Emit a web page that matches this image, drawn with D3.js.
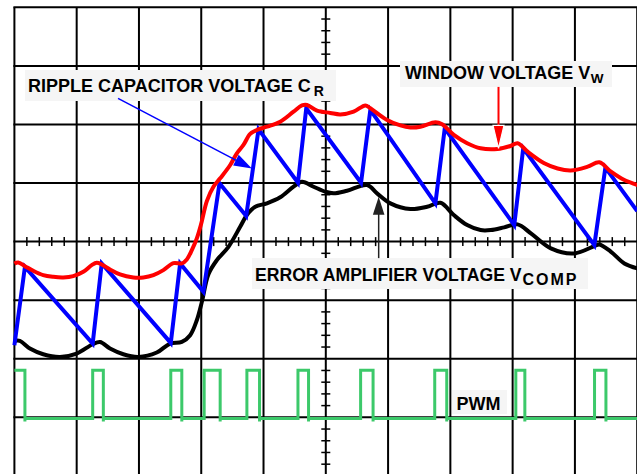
<!DOCTYPE html>
<html><head><meta charset="utf-8">
<script src="https://cdn.jsdelivr.net/npm/d3@7"></script>
<style>html,body{margin:0;padding:0;background:#fff;overflow:hidden}svg{display:block}</style>
</head><body><svg id="c" width="637" height="474"></svg>
<script>
// ---- data (time in divisions, voltage in divisions) ----
const rippleT = [0, 0.169, 1.257, 1.402, 2.511, 2.661, 3.035, 3.293, 3.722, 3.920, 4.553, 4.686, 5.566, 5.715, 6.760, 6.910, 8.026, 8.170, 9.312, 9.489, 10.0];
const rippleV = [-1.769, -0.431, -1.740, -0.373, -1.730, -0.373, -0.858, 0.995, 0.436, 1.918, 1.005, 2.277, 1.005, 2.248, 0.653, 1.935, 0.282, 1.593, -0.060, 1.262, 0.521];

const windowT = [0, 0.061, 0.169, 0.302, 0.463, 0.624, 0.785, 0.945, 1.106, 1.241, 1.322, 1.402, 1.535, 1.696, 1.910, 2.071, 2.232, 2.392, 2.553, 2.688, 2.768, 2.849, 2.929, 2.998, 3.090, 3.196, 3.304, 3.465, 3.572, 3.678, 3.786, 3.894, 4.055, 4.268, 4.482, 4.617, 4.698, 4.859, 5.072, 5.233, 5.447, 5.635, 5.715, 5.984, 6.198, 6.359, 6.519, 6.760, 6.868, 7.055, 7.270, 7.484, 7.757, 7.966, 8.079, 8.240, 8.508, 8.722, 8.931, 9.204, 9.392, 9.579, 9.794, 10.008];
const windowV = [-0.376, -0.356, -0.419, -0.499, -0.573, -0.602, -0.612, -0.590, -0.516, -0.402, -0.362, -0.390, -0.475, -0.561, -0.612, -0.612, -0.573, -0.487, -0.368, -0.373, -0.304, -0.145, 0.055, 0.299, 0.692, 0.937, 1.080, 1.308, 1.508, 1.650, 1.838, 1.906, 1.962, 2.048, 2.219, 2.325, 2.333, 2.236, 2.197, 2.171, 2.219, 2.325, 2.277, 2.077, 1.983, 1.949, 1.962, 2.038, 2.003, 1.821, 1.679, 1.593, 1.581, 1.632, 1.679, 1.535, 1.337, 1.248, 1.214, 1.279, 1.354, 1.193, 1.051, 0.966];

const compT = [0, 0.088, 0.249, 0.463, 0.732, 1.000, 1.257, 1.375, 1.535, 1.749, 1.990, 2.286, 2.500, 2.688, 2.822, 2.929, 3.010, 3.116, 3.251, 3.437, 3.625, 3.733, 3.867, 4.055, 4.268, 4.482, 4.617, 4.804, 4.992, 5.125, 5.341, 5.662, 5.823, 6.037, 6.359, 6.627, 6.841, 7.055, 7.270, 7.484, 7.650, 7.865, 8.079, 8.293, 8.614, 8.990, 9.312, 9.392, 9.579, 9.794, 10.008];
const compV = [-1.696, -1.696, -1.826, -1.923, -1.969, -1.911, -1.752, -1.713, -1.826, -1.923, -1.969, -1.894, -1.740, -1.713, -1.598, -1.342, -1.029, -0.556, -0.316, -0.089, 0.253, 0.453, 0.595, 0.653, 0.756, 0.937, 1.022, 0.937, 0.851, 0.824, 0.868, 0.966, 0.824, 0.653, 0.556, 0.595, 0.663, 0.453, 0.282, 0.197, 0.197, 0.243, 0.294, 0.140, -0.116, -0.202, -0.077, -0.048, -0.174, -0.373, -0.458];

const pwmRise = [0, 1.257, 2.511, 3.047, 3.733, 4.553, 5.559, 6.749, 8.051, 9.315];
const pwmFall = [0.169, 1.428, 2.688, 3.304, 3.936, 4.723, 5.759, 6.942, 8.196, 9.498];
const pwmHigh = -2.197;
const pwmLow = -3.02;

const labelRipple = ["RIPPLE CAPACITOR VOLTAGE C", "R"];
const labelWindow = ["WINDOW VOLTAGE V", "W"];
const labelComp = ["ERROR AMPLIFIER VOLTAGE V", "COMP"];
const labelPwm = "PWM";

// ---- scales ----
const x = d3.scaleLinear().domain([0, 10]).range([14.4, 637.2]);
const y = d3.scaleLinear().domain([4, -4]).range([7.3, 475.9]);
const svg = d3.select("#c");
const FONT = "'Liberation Sans', Arial, Helvetica, sans-serif";

// ---- grid ----
const g = svg.append("g");
g.selectAll("line.v").data(d3.range(0, 11)).join("line")
  .attr("x1", d => x(d)).attr("x2", d => x(d)).attr("y1", y(4)).attr("y2", y(-4))
  .attr("stroke", "#000").attr("stroke-width", 2);
g.selectAll("line.h").data(d3.range(-4, 5)).join("line")
  .attr("y1", d => y(d)).attr("y2", d => y(d)).attr("x1", x(0) - 1).attr("x2", x(10))
  .attr("stroke", "#000").attr("stroke-width", 2);
const xt = d3.range(0, 51).filter(k => k % 5 !== 0).map(k => k * 0.2);
g.selectAll("line.xt").data(xt).join("line")
  .attr("x1", d => x(d)).attr("x2", d => x(d)).attr("y1", y(0) - 4.5).attr("y2", y(0) + 4.5)
  .attr("stroke", "#000").attr("stroke-width", 1.5);
const yt = d3.range(-20, 21).filter(k => k % 5 !== 0).map(k => k * 0.2);
g.selectAll("line.yt").data(yt).join("line")
  .attr("y1", d => y(d)).attr("y2", d => y(d)).attr("x1", x(5) - 4.5).attr("x2", x(5) + 4.5)
  .attr("stroke", "#000").attr("stroke-width", 1.5);

// ---- label boxes ----
const BOX = "#f5f5f5";
const boxes = [[25, 70, 311, 31], [400, 61, 212, 26], [252, 258, 336, 31], [452, 390, 55, 24]];
svg.selectAll("rect.box").data(boxes).join("rect")
  .attr("x", d => d[0]).attr("y", d => d[1]).attr("width", d => d[2]).attr("height", d => d[3])
  .attr("fill", BOX);

// ---- PWM ----
const pwmPts = [];
pwmRise.forEach((r, i) => {
  if (i > 0) { pwmPts.push([r, pwmLow]); }
  pwmPts.push([r, pwmHigh]);
  pwmPts.push([pwmFall[i], pwmHigh]);
  pwmPts.push([pwmFall[i], pwmLow - 0.05]);
  pwmPts.push([pwmFall[i], pwmLow]);
});
pwmPts.push([10.1, pwmLow]);
svg.append("path").attr("d", d3.line().x(d => x(d[0])).y(d => y(d[1]))(pwmPts))
  .attr("fill", "none").attr("stroke", "#3cc96a").attr("stroke-width", 3);

// ---- curves ----
const smooth = d3.line().x(d => x(d[0])).y(d => y(d[1])).curve(d3.curveCatmullRom.alpha(0.5));
svg.append("path").attr("d", smooth(compT.map((t, i) => [t, compV[i]])))
  .attr("fill", "none").attr("stroke", "#000").attr("stroke-width", 4);
svg.append("path").attr("d", d3.line().x(d => x(d[0])).y(d => y(d[1]))(rippleT.map((t, i) => [t, rippleV[i]])))
  .attr("fill", "none").attr("stroke", "#0000ff").attr("stroke-width", 4).attr("stroke-linejoin", "miter");
svg.append("path").attr("d", smooth(windowT.map((t, i) => [t, windowV[i]])))
  .attr("fill", "none").attr("stroke", "#ff0000").attr("stroke-width", 4).attr("stroke-linejoin", "round");

// ---- arrows ----
function arrow(x1, y1, x2, y2, color, w, len, half, outline) {
  const X1 = x(x1), Y1 = y(y1), X2 = x(x2), Y2 = y(y2);
  const L = Math.hypot(X2 - X1, Y2 - Y1), ux = (X2 - X1) / L, uy = (Y2 - Y1) / L;
  const bx = X2 - ux * len, by = Y2 - uy * len;
  svg.append("line").attr("x1", X1).attr("y1", Y1).attr("x2", bx + ux * 2).attr("y2", by + uy * 2)
    .attr("stroke", color).attr("stroke-width", w);
  svg.append("path")
    .attr("d", `M${X2},${Y2}L${bx - uy * half},${by + ux * half}L${bx + uy * half},${by - ux * half}Z`)
    .attr("fill", color).attr("stroke", outline || "none").attr("stroke-width", outline ? 1.2 : 0);
}
arrow(1.664, 2.444, 3.813, 1.248, "#0000ff", 1.5, 18, 6);
arrow(7.773, 2.641, 7.773, 1.593, "#ff0000", 2, 23, 5.5, "#fff");
arrow(5.849, -0.282, 5.849, 0.766, "#222", 1.5, 18, 5.8);

// ---- labels ----
function label(px, py, parts, size, subSize, subDy, subDx, subSpacing) {
  const t = svg.append("text").attr("x", px).attr("y", py)
    .attr("font-family", FONT).attr("font-weight", "bold").attr("font-size", size).attr("fill", "#000");
  t.append("tspan").text(parts[0]);
  if (parts[1]) t.append("tspan").attr("font-size", subSize).attr("dy", subDy).attr("dx", subDx || 0)
    .attr("letter-spacing", subSpacing || 0).text(parts[1]);
}
label(28, 92.3, labelRipple, 18, 14, 3.5, 3);
label(405, 79, labelWindow, 18, 13.5, 4, 0.5);
label(255, 281, labelComp, 17.6, 16, 4, 1, 2);
label(456.5, 410, [labelPwm], 18);
</script></body></html>
